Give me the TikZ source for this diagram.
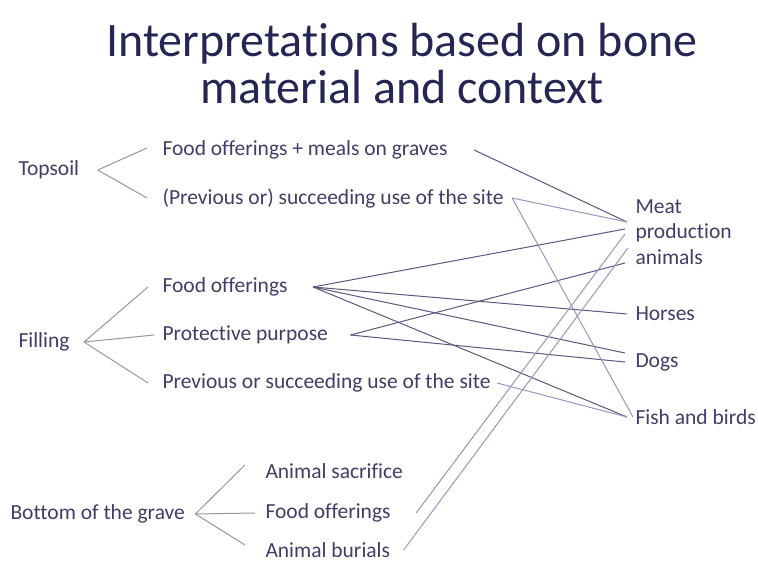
\documentclass[tikz,border=0pt]{standalone}
\usepackage{fontspec}
\setmainfont{Carlito}[RawFeature=-liga]
\usepackage{tikz}
\usetikzlibrary{arrows}
\definecolor{titlecol}{RGB}{38,38,84}
\definecolor{txt}{RGB}{62,62,104}
\definecolor{branchcol}{RGB}{150,150,162}
\definecolor{linkdark}{RGB}{88,88,128}
\definecolor{linklight}{RGB}{150,150,192}
\begin{document}
\begin{tikzpicture}[x=1pt,y=-1pt,line width=1pt,
                    every node/.style={font=\fontsize{21.5}{25.5}\selectfont,text=txt,inner sep=0pt,anchor=west}]
  \tikzstyle{branch}=[draw=branchcol]
  \tikzstyle{link}=[draw=linkdark]
  \tikzstyle{linkl}=[draw=linklight]
  \useasboundingbox (0,0) rectangle (758,564);

  \node[anchor=center,align=center,text=titlecol,font=\fontsize{48}{47}\selectfont] (title) at (402,64)
    {Interpretations based on bone\\material and context};

  % layers
  \node (topsoil) at (18,170) {Topsoil};
  \node (filling) at (18,342) {Filling};
  \node (bottom)  at (10,514) {Bottom of the grave};

  % interpretations
  \node (topfood) at (162,150) {Food offerings + meals on graves};
  \node (topsite) at (162,198) {(Previous or) succeeding use of the site};
  \node (fillfood) at (162,287) {Food offerings};
  \node (protect)  at (162,335) {Protective purpose};
  \node (fillsite) at (162,383) {Previous or succeeding use of the site};
  \node (sacrif)  at (265,471) {Animal sacrifice};
  \node (botfood) at (265,513) {Food offerings};
  \node (burial)  at (265,550) {Animal burials};

  % bone material
  \node[anchor=north west,align=left] (meat) at (635,199) {Meat\\production\\animals};
  \node (horses) at (635,314) {Horses};
  \node (dogs)   at (635,362) {Dogs};
  \node (fish)   at (635,417) {Fish and birds};

  \coordinate (meatA) at (627,222);
  \coordinate (meatB) at (625,229);
  \coordinate (meatC) at (625,234);
  \coordinate (meatD) at (628,248);
  \coordinate (meatE) at (625,263);
  \coordinate (dogsA) at (625,353);
  \coordinate (dogsB) at (625,362);

  % branches
  \path[branch] ([xshift=18pt]topsoil.east) edge ([xshift=-15pt,yshift=2pt]topfood.west)
                ([xshift=18pt]topsoil.east) edge ([xshift=-15pt]topsite.west)
                ([xshift=14pt]filling.east) edge ([xshift=-14pt]fillfood.west)
                ([xshift=14pt]filling.east) edge ([xshift=-8pt]protect.west)
                ([xshift=14pt]filling.east) edge ([xshift=-14pt]fillsite.west)
                ([xshift=10pt]bottom.east) edge ([xshift=-20pt,yshift=6pt]sacrif.west)
                ([xshift=10pt]bottom.east) edge ([xshift=-10pt]botfood.west)
                ([xshift=10pt]bottom.east) edge ([xshift=-20pt,yshift=5pt]burial.west);

  % links to the bone material
  \path[link] ([xshift=26pt]topfood.east) edge (meatA)
              ([xshift=25pt]fillfood.east) edge (meatB)
              ([xshift=25pt]fillfood.east) edge ([xshift=-8pt]horses.west)
              ([xshift=25pt]fillfood.east) edge (dogsA)
              ([xshift=25pt]fillfood.east) edge ([xshift=-8pt]fish.west)
              ([xshift=22pt]protect.east) edge (meatE)
              ([xshift=22pt]protect.east) edge (dogsB);
  \path[linkl] ([xshift=8pt]topsite.east) edge (meatA)
               ([xshift=8pt]topsite.east) edge ([xshift=-2pt]fish.west)
               ([xshift=6pt]fillsite.east) edge ([xshift=-8pt]fish.west)
               ([xshift=25pt]botfood.east) edge (meatC)
               ([xshift=13pt]burial.east) edge (meatD);
\end{tikzpicture}
\end{document}
